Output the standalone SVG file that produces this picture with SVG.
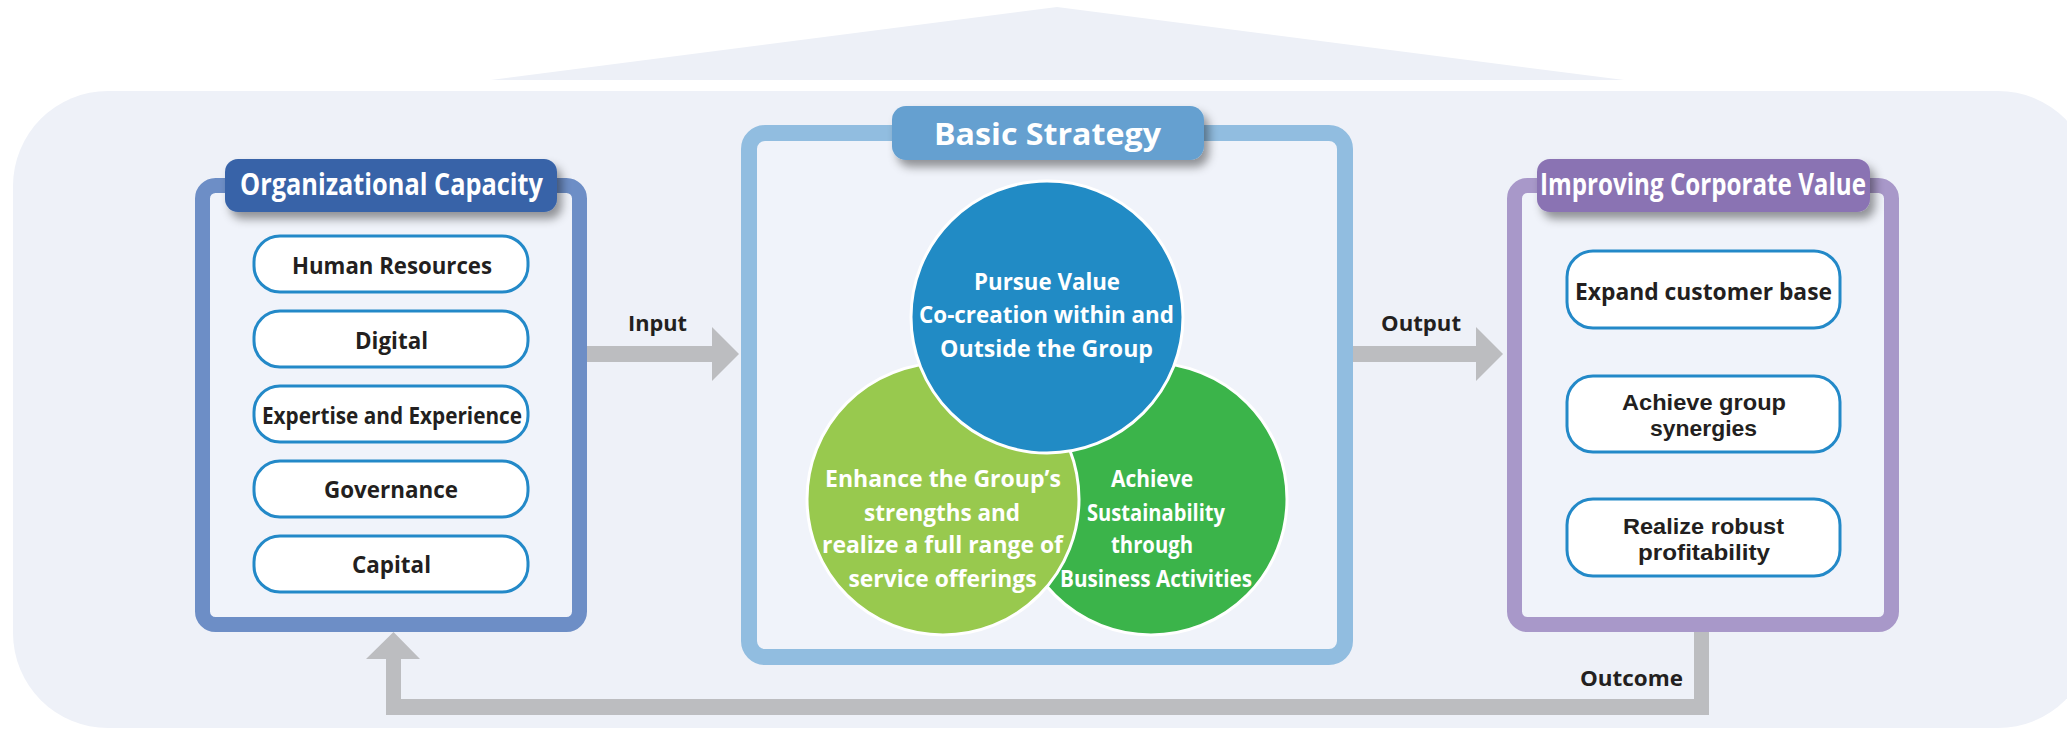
<svg xmlns="http://www.w3.org/2000/svg" width="2067" height="729" viewBox="0 0 2067 729">
<defs>
<filter id="sh" x="-10%" y="-30%" width="125%" height="190%">
<feDropShadow dx="5" dy="7" stdDeviation="5" flood-color="#000" flood-opacity="0.4"/>
</filter>
<style>
.title{font-family:"Open Sans","Noto Sans",sans-serif;font-weight:700;fill:#fff;font-size:31px;text-anchor:middle}
.item{font-family:"Open Sans","Noto Sans",sans-serif;font-weight:700;fill:#231f20;font-size:23px;text-anchor:middle}
.item2{font-family:"Liberation Sans",Arial,sans-serif;font-weight:700;fill:#231f20;font-size:22px;text-anchor:middle}
.circ{font-family:"Open Sans","Noto Sans",sans-serif;font-weight:700;fill:#fff;font-size:23px;text-anchor:middle}
.lbl{font-family:"Open Sans","Noto Sans",sans-serif;font-weight:700;fill:#231f20;font-size:22px;text-anchor:middle}
.box{fill:#fff;stroke:#2389c8;stroke-width:3}
.inner{fill:#f0f3fa}
.arrow{fill:#bcbdc0}
</style>
</defs>
<rect width="2067" height="729" fill="#fff"/>
<polygon points="491,80 1057,7 1624,80" fill="#edf0f7"/>
<rect x="13" y="91" width="2080" height="637" rx="95" fill="#eef1f8"/>

<g id="connectors">
<polygon class="arrow" points="587,346 712,346 712,327 739,354 712,381 712,362 587,362"/>
<polygon class="arrow" points="1353,346 1476,346 1476,327 1503,354 1476,381 1476,362 1353,362"/>
<polygon class="arrow" points="1694,630 1709,630 1709,715 386,715 386,659 366,659 393.5,632 420,659 401,659 401,699 1694,699"/>
<text class="lbl" x="657.5" y="331" textLength="59" lengthAdjust="spacingAndGlyphs">Input</text>
<text class="lbl" x="1421" y="331" textLength="80" lengthAdjust="spacingAndGlyphs">Output</text>
<text class="lbl" x="1631.5" y="686" textLength="103" lengthAdjust="spacingAndGlyphs">Outcome</text>
</g>

<g id="organizational-capacity">
<rect x="202.5" y="185.5" width="377" height="439" rx="13" class="inner" stroke="#6d8ec6" stroke-width="15"/>
<rect x="225" y="159" width="332" height="53" rx="13" fill="#3763a8" filter="url(#sh)"/>
<text class="title" x="391.5" y="195" textLength="303" lengthAdjust="spacingAndGlyphs">Organizational Capacity</text>
<g id="human-resources"><rect class="box" x="254" y="236" width="274" height="56" rx="26"/><text class="item" x="392" y="274" textLength="200" lengthAdjust="spacingAndGlyphs">Human Resources</text></g>
<g id="digital"><rect class="box" x="254" y="311" width="274" height="56" rx="26"/><text class="item" x="391.5" y="349" textLength="73" lengthAdjust="spacingAndGlyphs">Digital</text></g>
<g id="expertise"><rect class="box" x="254" y="386" width="274" height="56" rx="26"/><text class="item" x="392" y="424" textLength="260" lengthAdjust="spacingAndGlyphs">Expertise and Experience</text></g>
<g id="governance"><rect class="box" x="254" y="461" width="274" height="56" rx="26"/><text class="item" x="391" y="498" textLength="134" lengthAdjust="spacingAndGlyphs">Governance</text></g>
<g id="capital"><rect class="box" x="254" y="536" width="274" height="56" rx="26"/><text class="item" x="391.5" y="573" textLength="79" lengthAdjust="spacingAndGlyphs">Capital</text></g>
</g>

<g id="basic-strategy">
<rect x="749" y="133" width="596" height="524" rx="16" class="inner" stroke="#91bde0" stroke-width="16"/>
<rect x="892" y="106" width="312" height="54" rx="14" fill="#65a0d0" filter="url(#sh)"/>
<text class="title" x="1047.5" y="145" textLength="227" lengthAdjust="spacingAndGlyphs">Basic Strategy</text>
<g id="sustainability">
<circle cx="1151" cy="499" r="136" fill="#3bb44a" stroke="#fff" stroke-width="3"/>
<text class="circ" x="1152" y="487" textLength="82" lengthAdjust="spacingAndGlyphs">Achieve</text>
<text class="circ" x="1156" y="521" textLength="138" lengthAdjust="spacingAndGlyphs">Sustainability</text>
<text class="circ" x="1152" y="553" textLength="82" lengthAdjust="spacingAndGlyphs">through</text>
<text class="circ" x="1156" y="587" textLength="192" lengthAdjust="spacingAndGlyphs">Business Activities</text>
</g>
<g id="enhance">
<circle cx="943" cy="499" r="136" fill="#98c94e" stroke="#fff" stroke-width="3"/>
<text class="circ" x="943" y="487" textLength="236" lengthAdjust="spacingAndGlyphs">Enhance the Group’s</text>
<text class="circ" x="942" y="521" textLength="156" lengthAdjust="spacingAndGlyphs">strengths and</text>
<text class="circ" x="942.5" y="553" textLength="241" lengthAdjust="spacingAndGlyphs">realize a full range of</text>
<text class="circ" x="942.5" y="587" textLength="188" lengthAdjust="spacingAndGlyphs">service offerings</text>
</g>
<g id="pursue-value">
<circle cx="1047" cy="317" r="136" fill="#218bc5" stroke="#fff" stroke-width="3"/>
<text class="circ" x="1047" y="290" textLength="146" lengthAdjust="spacingAndGlyphs">Pursue Value</text>
<text class="circ" x="1046.5" y="323" textLength="255" lengthAdjust="spacingAndGlyphs">Co-creation within and</text>
<text class="circ" x="1046.5" y="357" textLength="213" lengthAdjust="spacingAndGlyphs">Outside the Group</text>
</g>
</g>

<g id="improving-corporate-value">
<rect x="1514.5" y="185.5" width="377" height="439" rx="13" class="inner" stroke="#a898c9" stroke-width="15"/>
<rect x="1537" y="159" width="333" height="53" rx="13" fill="#8a73b3" filter="url(#sh)"/>
<text class="title" x="1703" y="195" textLength="326" lengthAdjust="spacingAndGlyphs">Improving Corporate Value</text>
<g id="expand"><rect class="box" x="1567" y="251" width="273" height="77" rx="26"/><text class="item" x="1703.5" y="300" textLength="257" lengthAdjust="spacingAndGlyphs">Expand customer base</text></g>
<g id="synergies"><rect class="box" x="1567" y="376" width="273" height="76" rx="26"/><text class="item2" x="1704" y="410" textLength="164" lengthAdjust="spacingAndGlyphs">Achieve group</text><text class="item2" x="1703.5" y="436" textLength="107" lengthAdjust="spacingAndGlyphs">synergies</text></g>
<g id="profitability"><rect class="box" x="1567" y="499" width="273" height="77" rx="26"/><text class="item2" x="1703.5" y="534" textLength="161" lengthAdjust="spacingAndGlyphs">Realize robust</text><text class="item2" x="1704" y="560" textLength="132" lengthAdjust="spacingAndGlyphs">profitability</text></g>
</g>
</svg>
